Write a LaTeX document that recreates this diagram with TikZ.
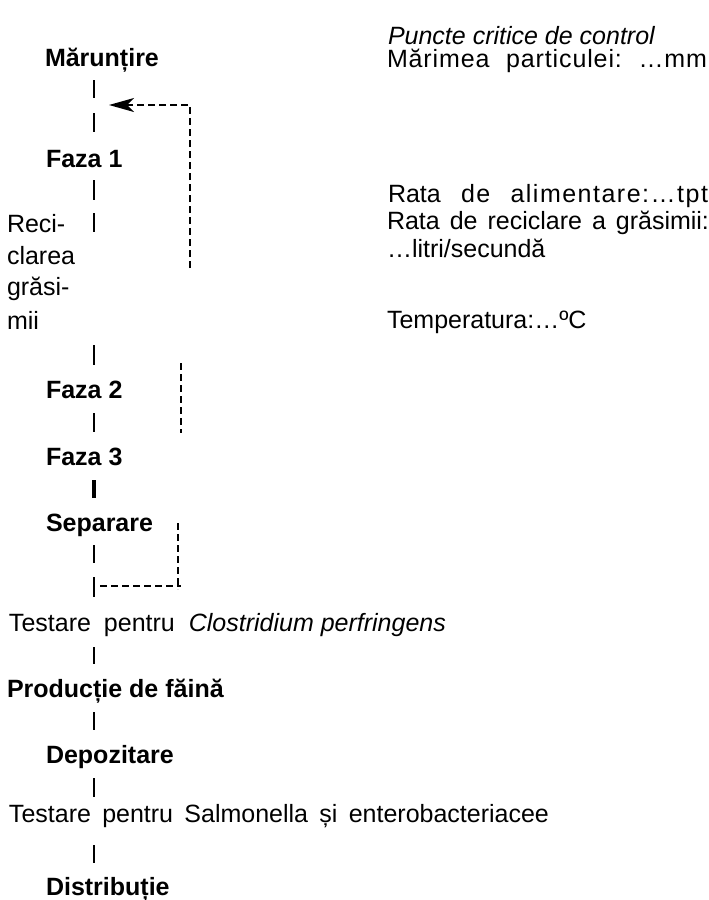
\documentclass[tikz,border=0pt]{standalone}
\usepackage{fontspec}
\setmainfont{Liberation Sans}
\usetikzlibrary{arrows.meta}
\frenchspacing
\tikzset{
  lbl/.style={anchor=base west, inner sep=0pt, outer sep=0pt, font=\fontsize{25}{30}\selectfont},
  boldlbl/.style={lbl, font=\fontsize{25}{30}\selectfont\bfseries},
  vbar/.style={line width=2.3pt},
  vbarthick/.style={line width=3.3pt},
  dashline/.style={line width=1.6pt, dash pattern=on 7pt off 4pt},
}
\begin{document}
\begin{tikzpicture}[x=1pt,y=-1pt]
\useasboundingbox (0,0) rectangle (709,900);
% right column
\node[lbl, font=\fontsize{25}{30}\selectfont\itshape] (title) at (388,44) {Puncte critice de control};
\node[lbl] (marime) at (387,67) {\makebox[320pt][s]{{\addfontfeature{LetterSpace=3.5}Mărimea} {\addfontfeature{LetterSpace=3.5}particulei:} {\addfontfeature{LetterSpace=3.5}…mm}}};
\node[lbl] (rata1) at (388,202) {\makebox[320pt][s]{Rata {\addfontfeature{LetterSpace=6}de} {\addfontfeature{LetterSpace=6}alimentare:…tpt}}};
\node[lbl] (rata2) at (387,229) {\makebox[322pt][s]{Rata de reciclare a grăsimii:}};
\node[lbl] (litri) at (387,257) {…litri/secundă};
\node[lbl] (temp) at (387,328) {Temperatura:…ºC};
% left column
\node[boldlbl] (marun) at (45,66) {Mărunțire};
\node[boldlbl] (faza1) at (46,167) {Faza 1};
\node[lbl] (reci1) at (7,232) {Reci-};
\node[lbl] (reci2) at (7,264) {clarea};
\node[lbl] (reci3) at (7,295) {grăsi-};
\node[lbl] (reci4) at (7,329) {mii};
\node[boldlbl] (faza2) at (46,398) {Faza 2};
\node[boldlbl] (faza3) at (46,465) {Faza 3};
\node[boldlbl] (separ) at (46,531) {Separare};
\node[lbl] (testc) at (9,631) {Testare\hspace{13pt}pentru\hspace{14pt}\textit{Clostridium perfringens}};
\node[boldlbl] (prod) at (7,697) {Producție de făină};
\node[boldlbl] (depoz) at (46,763) {Depozitare};
\node[lbl] (tests) at (9,822) {\makebox[540pt][s]{Testare pentru Salmonella și enterobacteriacee}};
\node[boldlbl] (distr) at (46,895) {Distribuție};
% vertical bars
\foreach \ya/\yb in {80/98,113/132,180/200,213/232,345/365,413/432,545/563,577/597,647/664,712/730,778/797,845/863}
  \draw[vbar] (94,\ya) -- (94,\yb);
\draw[vbarthick] (94,480) -- (94,498);
% dashed recycle lines
\coordinate (r1a) at (190,268);
\coordinate (r1b) at (190,105);
\coordinate (r1c) at (109,105);
\draw[dashline, -{Stealth[length=25pt,width=14pt,inset=7pt]}] (r1a) -- (r1b) -- (r1c);
\coordinate (r2a) at (181,363);
\coordinate (r2b) at (181,433);
\draw[dashline] (r2a) -- (r2b);
\coordinate (r3a) at (178,523);
\coordinate (r3b) at (178,589);
\coordinate (r3c) at (100,586);
\coordinate (r3d) at (181,586);
\draw[dashline] (r3a) -- (r3b);
\draw[dashline] (r3c) -- (r3d);
\end{tikzpicture}
\end{document}
